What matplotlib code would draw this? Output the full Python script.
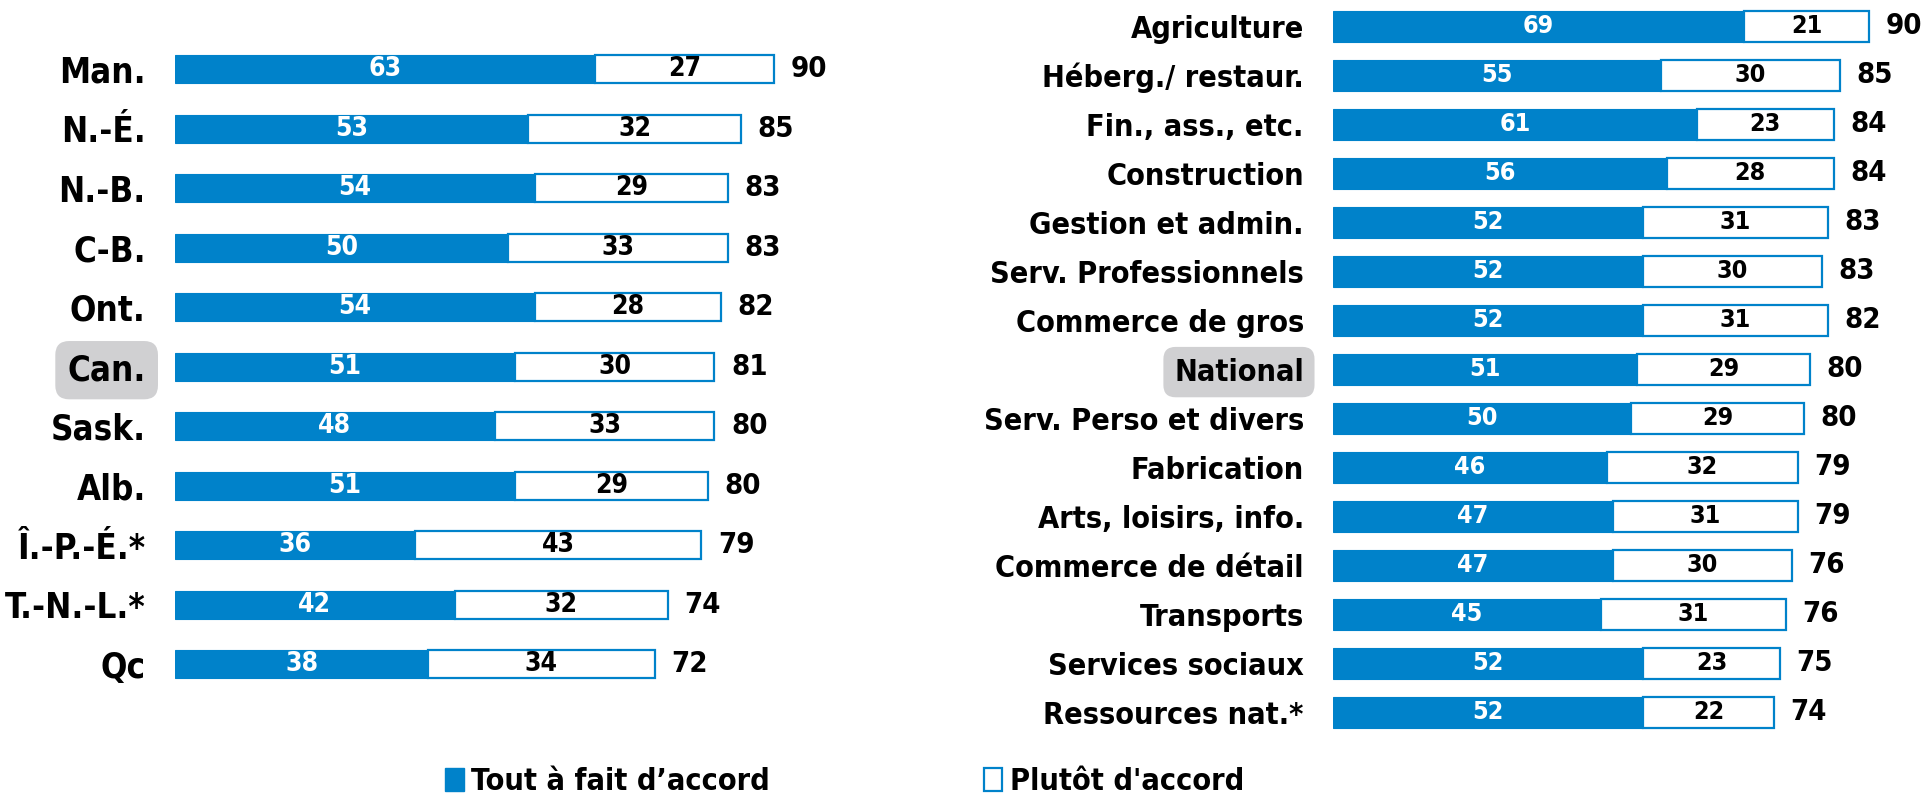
# Accord par province et par secteur - barres empilées horizontales
import numpy as np
import matplotlib
matplotlib.use('Agg')
import matplotlib.pyplot as plt
from matplotlib.patches import Patch

plt.rcParams['font.family'] = ['DejaVu Sans']
plt.rcParams['font.stretch'] = 'condensed'
plt.rcParams['font.weight'] = 'bold'

# Données - provinces
prov = ['Man.', 'N.-É.', 'N.-B.', 'C-B.', 'Ont.', 'Can.', 'Sask.', 'Alb.',
        'Î.-P.-É.*', 'T.-N.-L.*', 'Qc']
prov_tout = [63, 53, 54, 50, 54, 51, 48, 51, 36, 42, 38]
prov_plutot = [27, 32, 29, 33, 28, 30, 33, 29, 43, 32, 34]
prov_total = [90, 85, 83, 83, 82, 81, 80, 80, 79, 74, 72]

# Données - secteurs
sect = ['Agriculture', 'Héberg./ restaur.', 'Fin., ass., etc.', 'Construction',
        'Gestion et admin.', 'Serv. Professionnels', 'Commerce de gros', 'National',
        'Serv. Perso et divers', 'Fabrication', 'Arts, loisirs, info.',
        'Commerce de détail', 'Transports', 'Services sociaux', 'Ressources nat.*']
sect_tout = [69, 55, 61, 56, 52, 52, 52, 51, 50, 46, 47, 47, 45, 52, 52]
sect_plutot = [21, 30, 23, 28, 31, 30, 31, 29, 29, 32, 31, 30, 31, 23, 22]
sect_total = [90, 85, 84, 84, 83, 83, 82, 80, 80, 79, 79, 76, 76, 75, 74]

legend_labels = ['Tout à fait d’accord', "Plutôt d'accord"]

BLUE = '#0082CA'
GRAY = '#D0D0D2'

fig = plt.figure(figsize=(19.24, 8.05), dpi=100)
ax1 = fig.add_axes([175/1924, 0.138, 666/1924, 0.813])
ax2 = fig.add_axes([1333/1924, 0.085, 584/1924, 0.913])


def draw(ax, cats, tout, plutot, total, height, highlight, lab_fs, val_fs, tot_fs, xmax):
    y = np.arange(len(cats))
    ax.barh(y, tout, height=height, color=BLUE, edgecolor=BLUE, linewidth=0.8)
    ax.barh(y, plutot, left=tout, height=height, color='white', edgecolor=BLUE, linewidth=1.6)
    for i in range(len(cats)):
        ax.text(tout[i] / 2, y[i], str(tout[i]), color='white', ha='center', va='center',
                fontsize=val_fs, fontweight='bold')
        ax.text(tout[i] + plutot[i] / 2, y[i], str(plutot[i]), color='black', ha='center',
                va='center', fontsize=val_fs, fontweight='bold')
        ax.annotate(str(total[i]), (tout[i] + plutot[i], y[i]), xytext=(12, 0),
                    textcoords='offset points', ha='left', va='center',
                    fontsize=tot_fs, fontweight='bold')
    ax.set_yticks(y)
    ax.set_yticklabels(cats, fontsize=lab_fs, fontweight='bold')
    ax.tick_params(axis='y', length=0, pad=21)
    ax.set_xticks([])
    ax.set_xlim(0, xmax)
    ax.set_ylim(len(cats) - 0.5, -0.5)
    for s in ax.spines.values():
        s.set_visible(False)
    lab = ax.get_yticklabels()[highlight]
    lab.set_bbox(dict(boxstyle='round,pad=0.35,rounding_size=0.4', fc=GRAY, ec='none'))


draw(ax1, prov, prov_tout, prov_plutot, prov_total, 0.47, prov.index('Can.'), 25, 19, 21, 100)
draw(ax2, sect, sect_tout, sect_plutot, sect_total, 0.63, sect.index('National'), 22, 18, 21, 98)

handles = [Patch(facecolor=BLUE, edgecolor=BLUE),
           Patch(facecolor='white', edgecolor=BLUE, linewidth=1.6)]
fig.legend(handles, legend_labels, loc='lower center', bbox_to_anchor=(0.439, -0.012),
           ncol=2, frameon=False, handlelength=0.6, handleheight=0.75,
           handletextpad=0.25, columnspacing=7.0, borderpad=0.1,
           prop={'weight': 'bold', 'size': 22})

fig.savefig('out.png', dpi=100)
